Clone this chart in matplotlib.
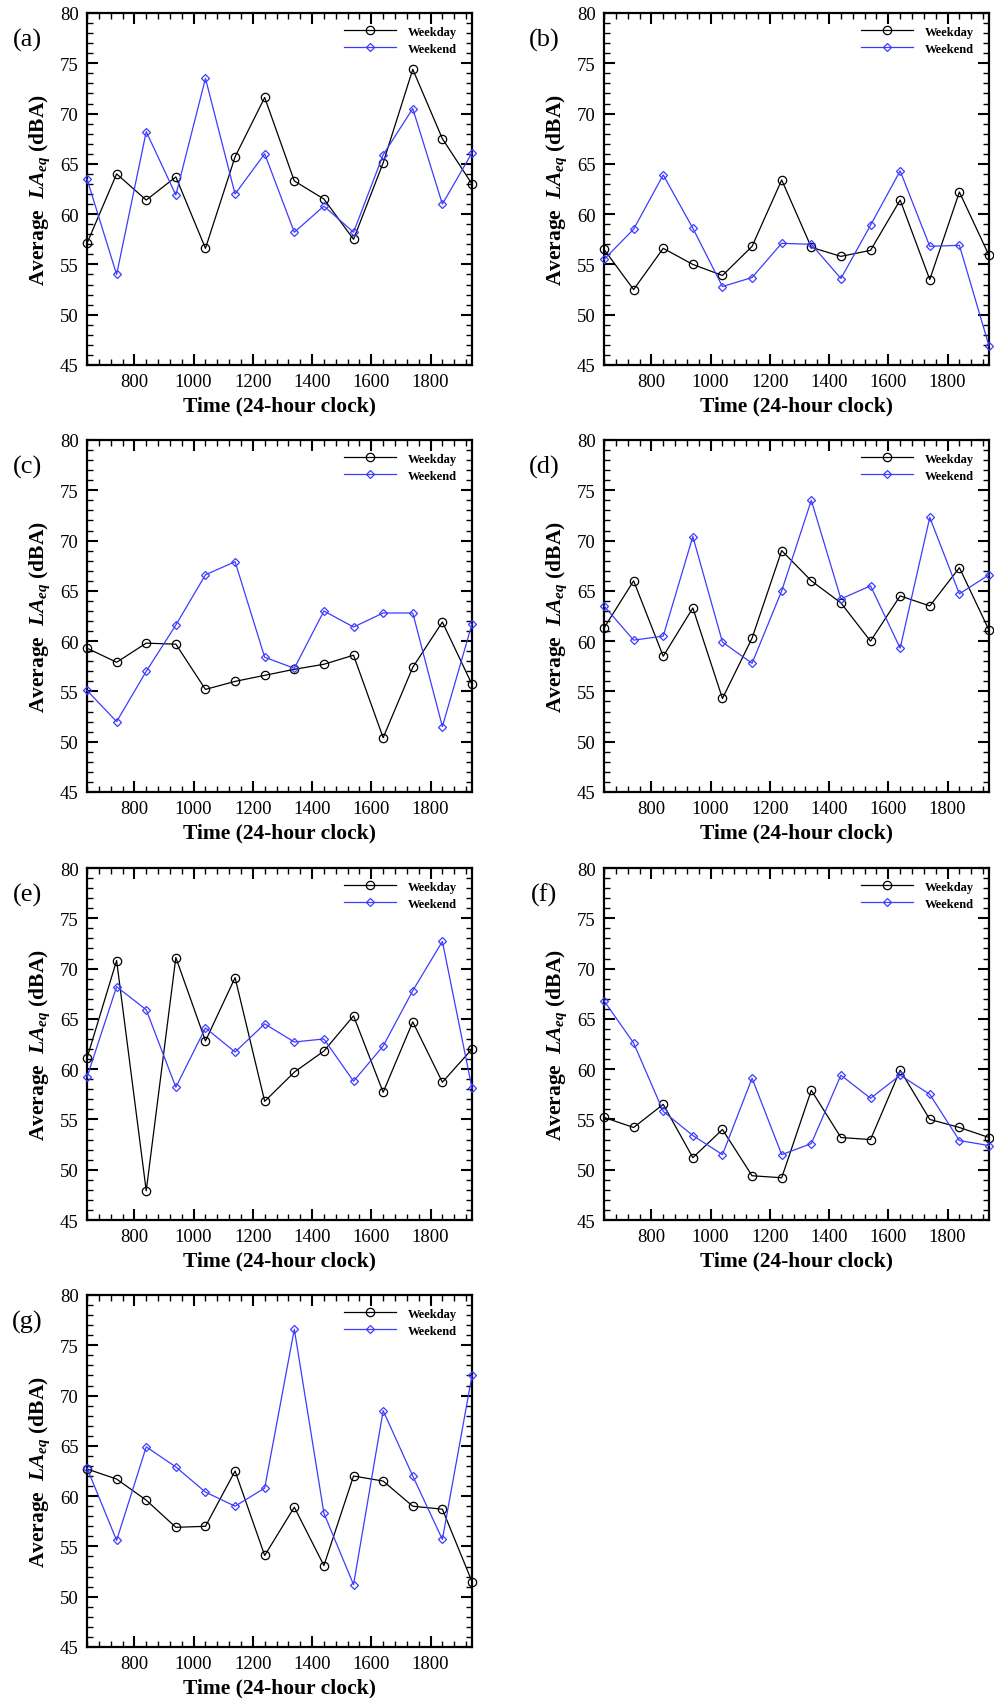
import matplotlib
matplotlib.use("Agg")
import matplotlib.pyplot as plt
from matplotlib.ticker import MultipleLocator

plt.rcParams['font.family'] = ['Liberation Serif', 'DejaVu Serif']
plt.rcParams['mathtext.fontset'] = 'custom'
plt.rcParams['mathtext.rm'] = 'Liberation Serif:bold'
plt.rcParams['mathtext.it'] = 'Liberation Serif:italic:bold'
plt.rcParams['mathtext.bf'] = 'Liberation Serif:bold'

# data
times = [640, 740, 840, 940, 1040, 1140, 1240, 1340, 1440, 1540, 1640, 1740, 1840, 1940]
panel_labels = ['(a)', '(b)', '(c)', '(d)', '(e)', '(f)', '(g)']

weekday_a = [57.1, 64.0, 61.4, 63.7, 56.6, 65.7, 71.6, 63.3, 61.5, 57.5, 65.1, 74.4, 67.5, 63.0]
weekend_a = [63.5, 54.0, 68.2, 61.9, 73.5, 62.0, 66.0, 58.2, 60.8, 58.2, 65.9, 70.5, 61.0, 66.1]

weekday_b = [56.5, 52.5, 56.6, 55.0, 53.9, 56.8, 63.4, 56.7, 55.8, 56.4, 61.4, 53.5, 62.2, 55.9]
weekend_b = [55.5, 58.5, 63.9, 58.6, 52.8, 53.7, 57.1, 57.0, 53.6, 58.9, 64.3, 56.8, 56.9, 46.9]

weekday_c = [59.3, 57.9, 59.8, 59.7, 55.2, 56.0, 56.6, 57.2, 57.7, 58.6, 50.4, 57.4, 61.9, 55.7]
weekend_c = [55.1, 52.0, 57.0, 61.6, 66.6, 67.9, 58.4, 57.3, 63.0, 61.4, 62.8, 62.8, 51.5, 61.7]

weekday_d = [61.3, 66.0, 58.5, 63.3, 54.3, 60.3, 69.0, 66.0, 63.8, 60.0, 64.5, 63.5, 67.3, 61.1]
weekend_d = [63.5, 60.1, 60.5, 70.4, 59.9, 57.8, 65.0, 74.0, 64.2, 65.5, 59.3, 72.3, 64.7, 66.6]

weekday_e = [61.1, 70.8, 47.9, 71.1, 62.8, 69.1, 56.8, 59.7, 61.8, 65.3, 57.7, 64.7, 58.7, 62.0]
weekend_e = [59.2, 68.2, 65.9, 58.2, 64.1, 61.7, 64.5, 62.7, 63.0, 58.8, 62.3, 67.8, 72.7, 58.1]

weekday_f = [55.2, 54.2, 56.5, 51.2, 54.0, 49.4, 49.2, 57.9, 53.2, 53.0, 59.9, 55.0, 54.2, 53.2]
weekend_f = [66.8, 62.6, 55.8, 53.4, 51.5, 59.1, 51.5, 52.6, 59.4, 57.1, 59.4, 57.5, 52.9, 52.4]

weekday_g = [62.7, 61.7, 59.6, 56.9, 57.0, 62.5, 54.1, 58.9, 53.1, 62.0, 61.5, 59.0, 58.7, 51.5]
weekend_g = [62.8, 55.6, 64.9, 62.9, 60.4, 59.0, 60.8, 76.6, 58.3, 51.2, 68.5, 62.0, 55.7, 72.0]

weekday = [weekday_a, weekday_b, weekday_c, weekday_d, weekday_e, weekday_f, weekday_g]
weekend = [weekend_a, weekend_b, weekend_c, weekend_d, weekend_e, weekend_f, weekend_g]

W, H = 995, 1699
fig = plt.figure(figsize=(W / 100, H / 100), dpi=100)

# axes boxes in pixels: left, top
col_left = [87, 604]
row_top = [14, 441, 869, 1296]
ax_w, ax_h = 385, 352

blue = '#3c3cff'

for i in range(7):
    r, c = divmod(i, 2)
    left = col_left[c] / W
    bottom = 1 - (row_top[r] + ax_h) / H
    ax = fig.add_axes([left, bottom, ax_w / W, ax_h / H])

    ax.plot(times, weekday[i], color='black', lw=0.9, marker='o', ms=6,
            mfc='none', mec='black', mew=0.9, label='Weekday', clip_on=False, zorder=3)
    ax.plot(times, weekend[i], color=blue, lw=0.9, marker='D', ms=4.5,
            mfc='none', mec=blue, mew=0.9, label='Weekend', clip_on=False, zorder=3)

    ax.set_xlim(640, 1940)
    ax.set_ylim(45, 80)
    ax.xaxis.set_major_locator(MultipleLocator(200))
    ax.xaxis.set_minor_locator(MultipleLocator(40))
    ax.yaxis.set_major_locator(MultipleLocator(5))
    ax.yaxis.set_minor_locator(MultipleLocator(1))
    ax.tick_params(which='both', direction='in', top=True, right=True)
    ax.tick_params(which='major', length=8, width=1.5, labelsize=13.5, pad=6)
    ax.tick_params(which='minor', length=4, width=1.0)
    for s in ax.spines.values():
        s.set_linewidth(1.6)

    ax.set_xlabel('Time (24-hour clock)', fontsize=15.5, fontweight='bold', labelpad=4)
    ax.set_ylabel(r'Average  $LA_{eq}$ (dBA)', fontsize=15.5, fontweight='bold', labelpad=6)

    ax.text(-0.155, 0.925, panel_labels[i], transform=ax.transAxes,
            fontsize=19, ha='center', va='center')

    ax.legend(loc='upper right', frameon=False,
              prop={'weight': 'bold', 'size': 9}, handlelength=4.2,
              handletextpad=0.9, labelspacing=0.4,
              bbox_to_anchor=(0.98, 0.985), borderaxespad=0.2)

fig.savefig('out.png', dpi=100)
